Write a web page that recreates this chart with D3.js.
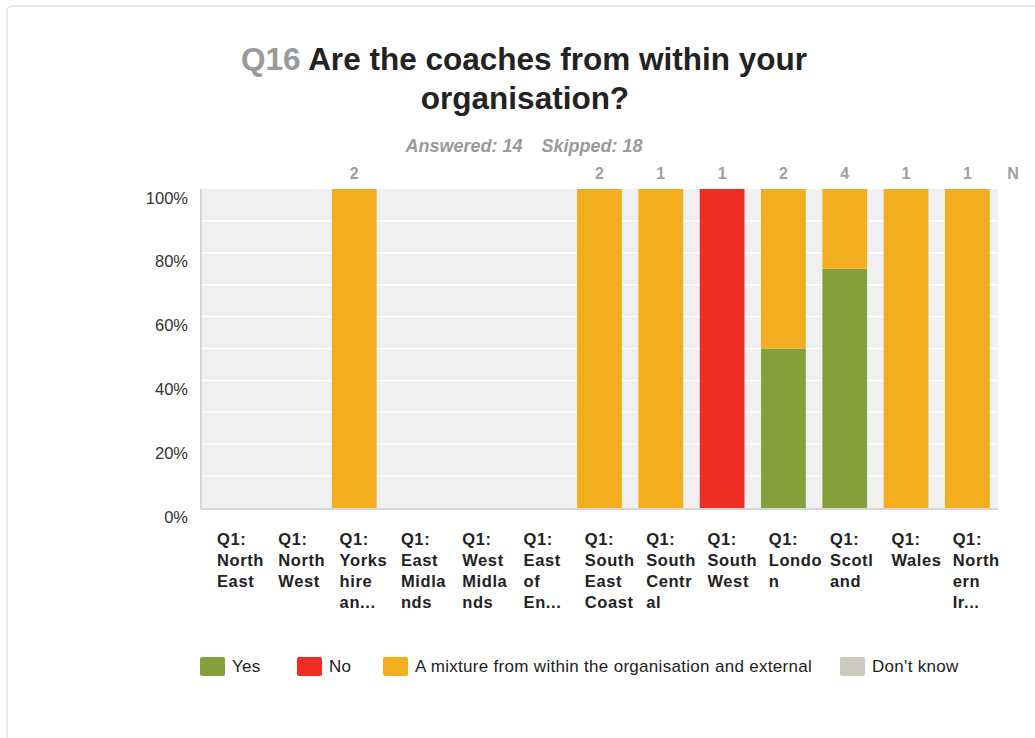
<!DOCTYPE html>
<html>
<head>
<meta charset="utf-8">
<script src="https://cdn.jsdelivr.net/npm/d3@7"></script>
<style>
  html, body { margin: 0; padding: 0; background: #fff; }
  svg { display: block; }
  text { font-family: "Liberation Sans", Arial, sans-serif; }
</style>
</head>
<body>
<svg id="chart" width="1035" height="738"></svg>
<script>
// ---- Data ----
const categories = [
  ["Q1:", "North", "East"],
  ["Q1:", "North", "West"],
  ["Q1:", "Yorks", "hire", "an..."],
  ["Q1:", "East", "Midla", "nds"],
  ["Q1:", "West", "Midla", "nds"],
  ["Q1:", "East", "of", "En..."],
  ["Q1:", "South", "East", "Coast"],
  ["Q1:", "South", "Centr", "al"],
  ["Q1:", "South", "West"],
  ["Q1:", "Londo", "n"],
  ["Q1:", "Scotl", "and"],
  ["Q1:", "Wales"],
  ["Q1:", "North", "ern", "Ir..."]
];
const seriesNames = ["Yes", "No", "A mixture from within the organisation and external", "Don't know"];
const seriesColors = ["#84a03d", "#ee2e24", "#f3ae1f", "#cbcabc"];
const yesValues     = [0, 0, 0,   0, 0, 0, 0,   0,   0,   50, 75, 0,   0];
const noValues      = [0, 0, 0,   0, 0, 0, 0,   0,   100, 0,  0,  0,   0];
const mixtureValues = [0, 0, 100, 0, 0, 0, 100, 100, 0,   50, 25, 100, 100];
const dontKnowValues= [0, 0, 0,   0, 0, 0, 0,   0,   0,   0,  0,  0,   0];
const nValues       = [0, 0, 2,   0, 0, 0, 2,   1,   1,   2,  4,  1,   1];
const yTicks = [0, 20, 40, 60, 80, 100];
const gridTicks = [10, 20, 30, 40, 50, 60, 70, 80, 90];
const titleQ = "Q16";
const titleLines = ["Are the coaches from within your", "organisation?"];
const answeredText = "Answered: 14";
const skippedText = "Skipped: 18";

// ---- Layout ----
const svg = d3.select("#chart");
const plot = { left: 201, right: 998, top: 189, bottom: 508 };

// outer frame
svg.append("rect")
  .attr("x", 7).attr("y", 6).attr("width", 1060).attr("height", 760)
  .attr("rx", 5).attr("fill", "none").attr("stroke", "#e8e8e8").attr("stroke-width", 2);

// title
const t1 = svg.append("text").attr("x", 524).attr("y", 70)
  .attr("text-anchor", "middle").attr("font-size", 31.5).attr("font-weight", "bold");
t1.append("tspan").attr("fill", "#9a9a9a").text(titleQ + " ");
t1.append("tspan").attr("fill", "#222").text(titleLines[0]);
svg.append("text").attr("x", 525).attr("y", 109)
  .attr("text-anchor", "middle").attr("font-size", 31.5).attr("font-weight", "bold")
  .attr("fill", "#222").text(titleLines[1]);

const sub = svg.append("text").attr("x", 524).attr("y", 152)
  .attr("text-anchor", "middle").attr("font-size", 18).attr("font-weight", "bold")
  .attr("font-style", "italic").attr("fill", "#9a9a9a");
sub.append("tspan").text(answeredText);
sub.append("tspan").attr("dx", 19).text(skippedText);

// scales
const x = d3.scaleBand().domain(d3.range(categories.length))
  .range([plot.left, plot.right]).paddingInner(0.27).paddingOuter(0.135);
const y = d3.scaleLinear().domain([0, 100]).range([plot.bottom, plot.top]);

// background
svg.append("rect").attr("x", plot.left).attr("y", plot.top)
  .attr("width", plot.right - plot.left).attr("height", plot.bottom - plot.top)
  .attr("fill", "#eff0ef");

// gridlines
svg.append("g").selectAll("line").data(gridTicks).join("line")
  .attr("x1", plot.left).attr("x2", plot.right)
  .attr("y1", d => y(d)).attr("y2", d => y(d))
  .attr("stroke", "#ffffff").attr("stroke-width", 1.5);

// stacked bars
const rows = categories.map((c, i) => ({
  i, Yes: yesValues[i], No: noValues[i], Mix: mixtureValues[i], DK: dontKnowValues[i]
}));
const stack = d3.stack().keys(["Yes", "No", "Mix", "DK"])(rows);
svg.append("g").selectAll("g").data(stack).join("g")
  .attr("fill", (d, k) => seriesColors[k])
  .selectAll("rect").data(d => d).join("rect")
  .attr("x", d => x(d.data.i))
  .attr("width", x.bandwidth())
  .attr("y", d => y(d[1]))
  .attr("height", d => y(d[0]) - y(d[1]));

// axes lines
svg.append("line").attr("x1", plot.left).attr("x2", plot.left)
  .attr("y1", plot.top).attr("y2", plot.bottom + 1)
  .attr("stroke", "#d6d6d6").attr("stroke-width", 2);
svg.append("line").attr("x1", plot.left).attr("x2", plot.right)
  .attr("y1", plot.bottom + 1).attr("y2", plot.bottom + 1)
  .attr("stroke", "#d6d6d6").attr("stroke-width", 2);

// y axis labels
const yAxis = d3.axisLeft(y).tickValues(yTicks).tickFormat(d => d + "%").tickSize(0).tickPadding(13);
const yg = svg.append("g").attr("transform", `translate(${plot.left},0)`).call(yAxis);
yg.select(".domain").remove();
yg.selectAll("text").attr("font-size", 16.5).attr("fill", "#333")
  .attr("font-family", "'Liberation Sans', Arial, sans-serif")
  .attr("dy", 0).attr("transform", "translate(0,14)");

// N labels
svg.append("g").selectAll("text").data(nValues.map((n, i) => ({ n, i })).filter(d => d.n > 0))
  .join("text")
  .attr("x", d => x(d.i) + x.bandwidth() / 2).attr("y", 179)
  .attr("text-anchor", "middle").attr("font-size", 16).attr("font-weight", "bold")
  .attr("fill", "#a0a0a0").text(d => d.n);
svg.append("text").attr("x", 1013).attr("y", 179).attr("text-anchor", "middle")
  .attr("font-size", 16).attr("font-weight", "bold").attr("fill", "#a0a0a0").text("N");

// x labels
const step = x.step();
const xl = svg.append("g").selectAll("text").data(categories.map((c, i) => ({ c, i }))).join("text")
  .attr("x", d => x(d.i) - step * 0.135 + 16)
  .attr("y", 545)
  .attr("font-size", 16.5).attr("font-weight", "bold").attr("fill", "#222")
  .attr("letter-spacing", 0.6);
xl.selectAll("tspan").data(d => d.c.map(s => ({ s, x: x(d.i) - step * 0.135 + 16 }))).join("tspan")
  .attr("x", d => d.x).attr("dy", (d, j) => j === 0 ? 0 : 21).text(d => d.s);

// legend
const legendX = [200, 297, 383, 840];
const lg = svg.append("g").selectAll("g").data(seriesNames.map((s, k) => ({ s, k }))).join("g")
  .attr("transform", d => `translate(${legendX[d.k]},657)`);
lg.append("rect").attr("width", 25).attr("height", 19).attr("rx", 2)
  .attr("fill", d => seriesColors[d.k]);
lg.append("text").attr("x", 32).attr("y", 15).attr("font-size", 17).attr("fill", "#222")
  .attr("letter-spacing", 0.3)
  .text(d => d.s);
</script>
</body>
</html>
